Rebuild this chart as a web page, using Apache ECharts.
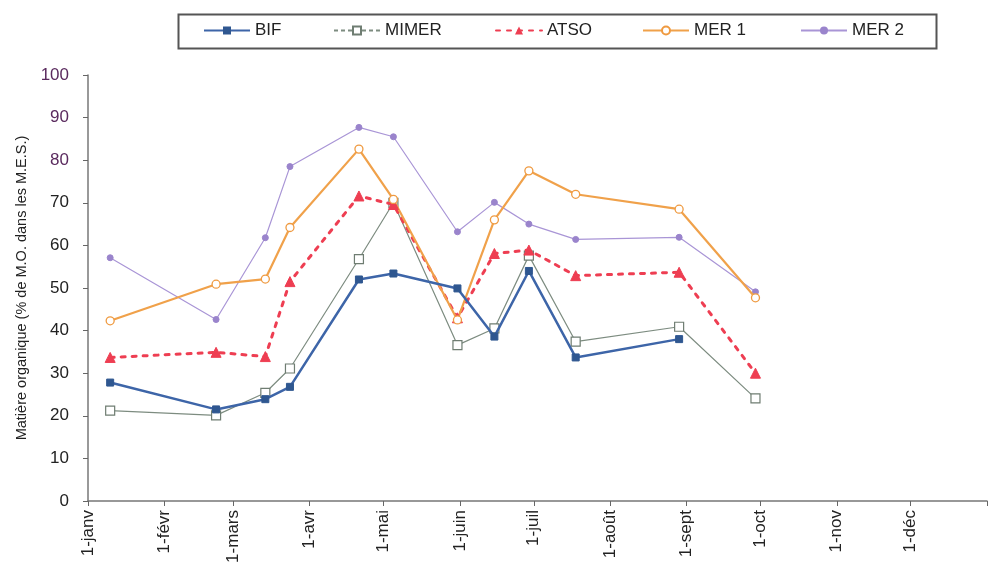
<!DOCTYPE html>
<html>
<head>
<meta charset="utf-8">
<script src="https://cdn.jsdelivr.net/npm/echarts@6/dist/echarts.min.js"></script>
<style>html,body{margin:0;padding:0;background:#fff;}#c{width:988px;height:569px;}</style>
</head>
<body>
<div id="c"></div>
<script>
// Sampling dates (month-day, one year)
const sampleDates = ['01-10','02-22','03-14','03-24','04-21','05-05','05-31','06-15','06-29','07-18','08-29','09-29'];
const bif   = [27.8, 21.5, 23.9, 26.8, 52.0, 53.4, 49.9, 38.6, 54.0, 33.7, 38.0, null];
const mimer = [21.2, 20.1, 25.4, 31.1, 56.8, 70.0, 36.6, 40.5, 57.6, 37.4, 40.9, 24.1];
const atso  = [33.7, 34.9, 33.9, 51.5, 71.6, 69.6, 43.0, 58.1, 58.9, 52.9, 53.7, 30.0];
const mer1  = [42.3, 50.9, 52.1, 64.2, 82.6, 70.8, 42.5, 66.0, 77.5, 72.0, 68.5, 47.7];
const mer2  = [57.1, 42.6, 61.8, 78.5, 87.7, 85.5, 63.2, 70.1, 65.0, 61.4, 61.9, 49.1];
const monthLabels = ['1-janv','1-févr','1-mars','1-avr','1-mai','1-juin','1-juil','1-août','1-sept','1-oct','1-nov','1-déc'];
const yTicks = [0,10,20,30,40,50,60,70,80,90,100];

const YEAR = 2001;
const dayOf = s => {
  const [m, d] = s.split('-').map(Number);
  return (Date.UTC(YEAR, m - 1, d) - Date.UTC(YEAR, 0, 1)) / 86400000;
};
const monthStarts = monthLabels.map((_, i) => (Date.UTC(YEAR, i, 1) - Date.UTC(YEAR, 0, 1)) / 86400000);
const yearLen = (Date.UTC(YEAR + 1, 0, 1) - Date.UTC(YEAR, 0, 1)) / 86400000;
const xs = sampleDates.map(dayOf);
const pts = arr => arr.map((v, i) => [xs[i], v]).filter(p => p[1] !== null);

const chart = echarts.init(document.getElementById('c'));
const FONT = 'Liberation Sans, Arial, sans-serif';

const legendPos = [
  {name:'BIF', left:198},
  {name:'MIMER', left:328},
  {name:'ATSO', left:490},
  {name:'MER 1', left:637},
  {name:'MER 2', left:795}
];

chart.setOption({
  backgroundColor: '#fff',
  animation: false,
  textStyle: {fontFamily: FONT},
  graphic: [{
    type: 'rect', left: 176, top: 12,
    shape: {width: 758, height: 34},
    style: {fill: 'none', stroke: '#555', lineWidth: 2}
  }],
  legend: legendPos.map(l => ({
    data: [l.name === 'MIMER' ? {name: l.name, lineStyle: {type: [4, 3]}} : l.name],
    left: l.left, top: 17,
    itemWidth: 46, itemHeight: 10,
    textStyle: {fontSize: 17, color: '#222', fontFamily: FONT},
    inactiveColor: '#ccc'
  })),
  grid: {left: 88, right: 1, top: 75, bottom: 68, containLabel: false},
  xAxis: {
    type: 'value', min: 0, max: yearLen,
    axisLine: {lineStyle: {color: '#777', width: 1.5}},
    axisTick: {show: true, customValues: monthStarts.concat([yearLen]), length: 5, lineStyle: {color: '#666'}},
    axisLabel: {
      customValues: monthStarts, rotate: 90, fontSize: 17, color: '#222', margin: 9,
      formatter: v => monthLabels[monthStarts.indexOf(v)] || ''
    },
    splitLine: {show: false}
  },
  yAxis: {
    type: 'value', min: 0, max: 100, interval: 10,
    name: 'Matière organique (% de M.O. dans les M.E.S.)',
    nameLocation: 'middle', nameGap: 57, nameRotate: 90,
    nameTextStyle: {fontSize: 14.5, color: '#222', fontFamily: FONT},
    axisLine: {show: true, lineStyle: {color: '#777', width: 1.5}},
    axisTick: {show: true, length: 5, lineStyle: {color: '#666'}},
    axisLabel: {
      fontSize: 17, margin: 19,
      color: v => (Number(v) >= 80 ? '#5a2a5e' : '#222'),
      formatter: v => yTicks.includes(v) ? String(v) : ''
    },
    splitLine: {show: false}
  },
  series: [
    {
      name: 'BIF', type: 'line', data: pts(bif), z: 5,
      symbol: 'rect', symbolSize: 7,
      lineStyle: {color: '#3d65a8', width: 2.5},
      itemStyle: {color: '#2f5790', borderColor: '#2f5790'}
    },
    {
      name: 'MIMER', type: 'line', data: pts(mimer), z: 3,
      symbol: 'rect', symbolSize: 9,
      lineStyle: {color: '#7d8c80', width: 1.2},
      itemStyle: {color: '#fff', borderColor: '#6f7d72', borderWidth: 1.2}
    },
    {
      name: 'ATSO', type: 'line', data: pts(atso), z: 4,
      symbol: 'triangle', symbolSize: 10,
      lineStyle: {color: '#ee3e52', width: 3, type: [4, 7], cap: 'round'},
      itemStyle: {color: '#ee3e52', borderColor: '#ee3e52'}
    },
    {
      name: 'MER 1', type: 'line', data: pts(mer1), z: 4,
      symbol: 'circle', symbolSize: 8,
      lineStyle: {color: '#f0a14a', width: 2.2},
      itemStyle: {color: '#fff', borderColor: '#ef9a40', borderWidth: 1.3}
    },
    {
      name: 'MER 2', type: 'line', data: pts(mer2), z: 2,
      symbol: 'circle', symbolSize: 6,
      lineStyle: {color: '#a995d6', width: 1.2},
      itemStyle: {color: '#9a84cc', borderColor: '#9a84cc'}
    }
  ]
});
</script>
</body>
</html>
